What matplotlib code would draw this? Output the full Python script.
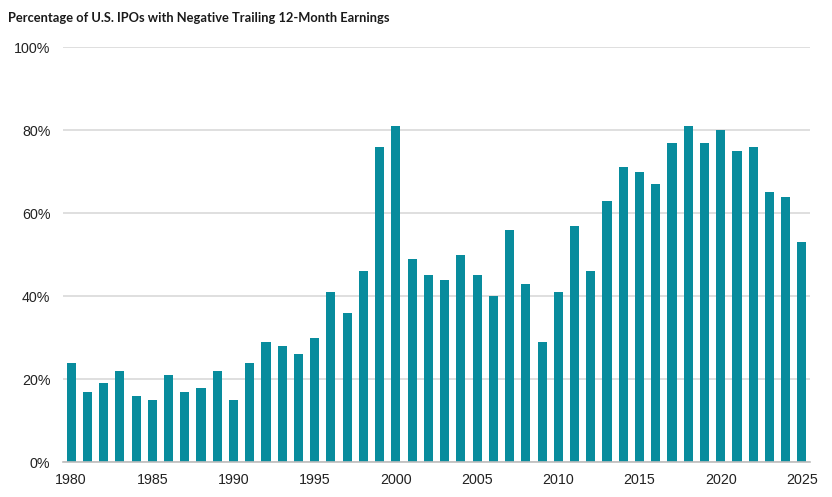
import matplotlib.pyplot as plt
from matplotlib.ticker import FuncFormatter

# share of US IPOs with negative trailing 12-month earnings, by year
years = list(range(1980, 2026))
pct_negative = [24, 17, 19, 22, 16, 15, 21, 17, 18, 22,
                15, 24, 29, 28, 26, 30, 41, 36, 46, 76,
                81, 49, 45, 44, 50, 45, 40, 56, 43, 29,
                41, 57, 46, 63, 71, 70, 67, 77, 81, 77,
                80, 75, 76, 65, 64, 53]
y_ticks = [0, 20, 40, 60, 80, 100]
x_ticks = [1980, 1985, 1990, 1995, 2000, 2005, 2010, 2015, 2020, 2025]

fig = plt.figure(figsize=(8.32, 4.97), dpi=100)
ax = fig.add_axes([0.0757, 0.0698, 0.8979, 0.8356])

ax.bar(years, pct_negative, width=0.56, color="#088c9d", zorder=3)

ax.set_xlim(1979.5, 2025.5)
ax.set_ylim(0, 100)
ax.set_yticks(y_ticks)
ax.yaxis.set_major_formatter(FuncFormatter(lambda v, _: f"{v:.0f}%"))
ax.set_xticks(x_ticks)

ax.grid(axis="y", color="#d9d9d9", linewidth=1.2, zorder=0)
for s in ["top", "right", "left"]:
    ax.spines[s].set_visible(False)
ax.spines["bottom"].set_color("#bdbdbd")
ax.spines["bottom"].set_linewidth(1.2)
ax.spines["bottom"].set_zorder(4)

ax.tick_params(axis="both", length=0, labelsize=10.3, labelcolor="#222222")
ax.tick_params(axis="y", pad=9)
ax.tick_params(axis="x", pad=8)
for lab in ax.get_xticklabels() + ax.get_yticklabels():
    lab.set_family("Liberation Sans")

fig.text(0.0096, 0.975, "Percentage of U.S. IPOs with Negative Trailing 12-Month Earnings",
         fontsize=9.3, fontweight="bold", family="Lato", color="#1a1a1a", va="top")

fig.savefig("out.png", dpi=100)
